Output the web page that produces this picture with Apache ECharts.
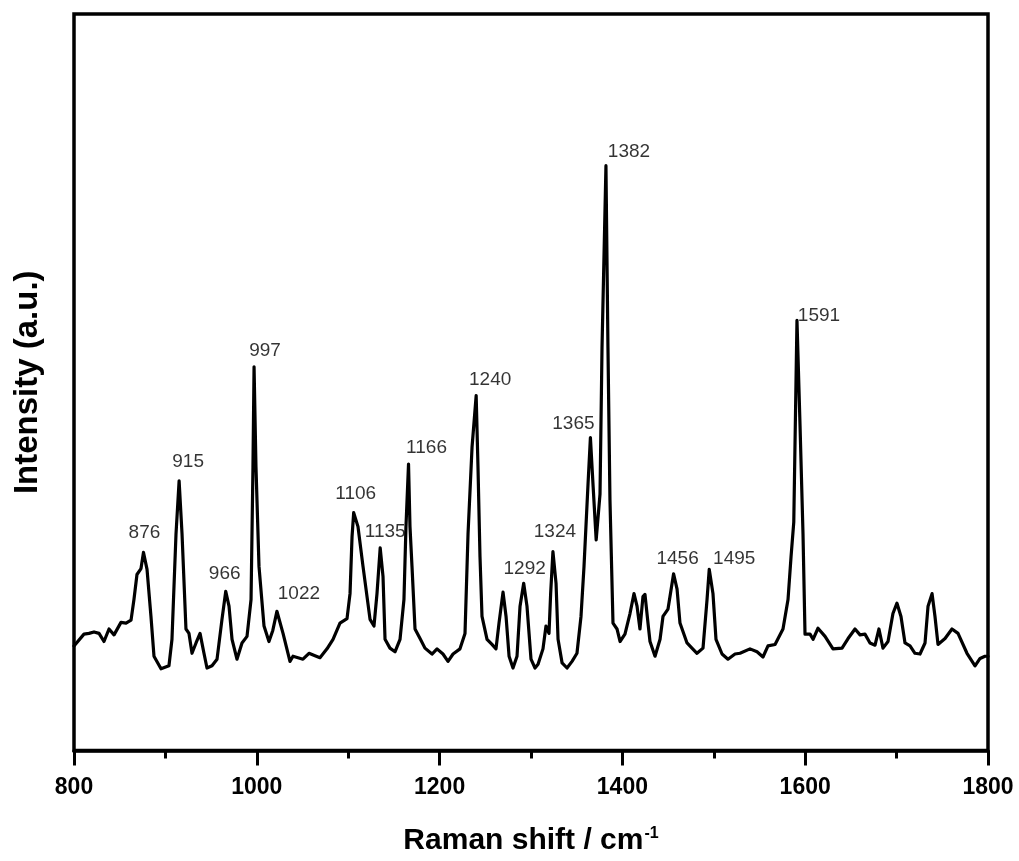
<!DOCTYPE html>
<html>
<head>
<meta charset="utf-8">
<style>
  html, body { margin: 0; padding: 0; background: #fff; }
  #chart { width: 1019px; height: 861px; }
</style>
<script src="https://cdn.jsdelivr.net/npm/echarts@6/dist/echarts.min.js"></script>
</head>
<body>
<div id="chart"></div>
<script>
// Raman spectrum: wavenumber (cm-1) and relative intensity (a.u.)
const ramanShift = [
  800, 810.9, 816.4, 821.9, 827.4, 832.8, 838.3, 843.8, 851.4, 856.9,
  862.4, 865.6, 868.9, 873.3, 876, 879.9, 884.2, 887.5, 895.2, 903.9,
  907.2, 911.6, 915, 918.2, 922.5, 925.8, 929.1, 933.5, 937.9, 942.2,
  945.5, 951.0, 956.5, 961.9, 966, 969.6, 972.9, 978.3, 983.8, 989.3,
  993.7, 995.8, 997, 999.1, 1002.4, 1007.9, 1013.3, 1017.5, 1022, 1028.7,
  1036.3, 1039.6, 1045.1, 1050.5, 1057.1, 1063, 1069.1, 1076.8, 1083.4, 1091.0,
  1098.7, 1102.0, 1104.2, 1106, 1110.7, 1116.2, 1123.9, 1128.2, 1131.5, 1135,
  1138.1, 1140.3, 1145.7, 1151.2, 1156.7, 1161.0, 1163.2, 1166, 1167.6, 1169.8,
  1173.1, 1178.6, 1184.0, 1191.7, 1197.2, 1203.7, 1209.2, 1214.7, 1222.3, 1227.8,
  1231.1, 1235.5, 1240, 1242.0, 1244.2, 1246.4, 1251.9, 1257.3, 1261.7, 1265.0,
  1269.4, 1272.7, 1276.0, 1280.3, 1284.7, 1288.0, 1292, 1295.6, 1300.0, 1304.4,
  1307.7, 1313.1, 1316.4, 1319.7, 1321.5, 1324, 1327.4, 1329.6, 1334.0, 1339.4,
  1344.9, 1350.3, 1354.7, 1358.0, 1362.4, 1365, 1368.0, 1371.3, 1375.5, 1377.7,
  1382, 1384.2, 1386.4, 1389.7, 1394.1, 1397.4, 1402.8, 1408.3, 1412.7, 1416.0,
  1419.2, 1422.5, 1424.7, 1428.0, 1430.2, 1435.7, 1441.2, 1444.4, 1449.9, 1456,
  1459.8, 1463.0, 1470.7, 1476.1, 1481.6, 1488.2, 1492.6, 1495, 1499.1, 1502.4,
  1509.0, 1515.5, 1523.2, 1528.7, 1539.6, 1547.3, 1553.8, 1559.3, 1567.0, 1575.7,
  1581.2, 1584.5, 1587.5, 1591, 1594.4, 1597.6, 1599.8, 1605.3, 1608.6, 1614.0,
  1621.7, 1630.4, 1640.3, 1646.9, 1654.5, 1660.0, 1665.4, 1670.9, 1676.4, 1680.7,
  1685.1, 1690.6, 1696.0, 1700.4, 1704.8, 1709.2, 1714.7, 1720.1, 1725.6, 1731.1,
  1734.4, 1738.8, 1742.0, 1745.3, 1753.0, 1760.6, 1767.2, 1777.0, 1785.8, 1791.3,
  1796.7, 1800
];

const intensity = [
  14.2, 15.8, 15.9, 16.1, 15.9, 14.8, 16.5, 15.7, 17.4, 17.3,
  17.7, 20.5, 23.9, 24.7, 26.9, 24.6, 18.2, 12.8, 11.1, 11.5,
  15.1, 29.4, 36.6, 29.4, 16.5, 15.9, 13.2, 14.6, 15.9, 13.2,
  11.2, 11.5, 12.4, 17.8, 21.6, 19.6, 15.1, 12.4, 14.6, 15.5,
  20.5, 38.5, 52.1, 38.5, 25.0, 16.9, 14.8, 16.3, 18.9, 15.9,
  12.1, 12.8, 12.6, 12.4, 13.2, 12.9, 12.6, 13.8, 15.1, 17.3,
  17.9, 21.3, 29.0, 32.3, 30.4, 25.0, 17.8, 16.9, 21.3, 27.5,
  23.6, 15.1, 13.9, 13.4, 15.1, 20.5, 30.4, 38.9, 30.4, 25.0,
  16.5, 15.2, 13.9, 13.1, 13.8, 13.1, 12.1, 13.1, 13.8, 15.9,
  29.4, 41.2, 48.2, 38.5, 26.3, 18.2, 15.1, 14.4, 13.8, 17.3,
  21.5, 18.2, 12.8, 11.2, 12.8, 19.6, 22.7, 19.6, 12.4, 11.2,
  11.7, 13.8, 16.9, 15.9, 21.3, 27.0, 22.7, 15.1, 11.9, 11.2,
  12.1, 13.2, 18.2, 25.0, 36.2, 42.5, 35.8, 28.6, 34.8, 54.7,
  79.4, 54.7, 34.0, 17.3, 16.5, 14.8, 15.8, 18.6, 21.3, 19.6,
  16.5, 20.9, 21.2, 17.3, 14.8, 12.8, 15.1, 18.2, 19.2, 24.0,
  21.9, 17.3, 14.6, 13.9, 13.2, 13.9, 20.5, 24.6, 21.3, 15.1,
  13.1, 12.4, 13.1, 13.2, 13.8, 13.4, 12.7, 14.2, 14.4, 16.5,
  20.5, 26.3, 31.0, 58.4, 43.9, 29.4, 15.8, 15.8, 15.1, 16.6,
  15.5, 13.8, 13.9, 15.2, 16.5, 15.7, 15.8, 14.6, 14.3, 16.5,
  13.9, 14.8, 18.6, 20.0, 18.2, 14.6, 14.2, 13.2, 13.1, 14.6,
  19.6, 21.3, 18.2, 14.4, 15.2, 16.5, 15.9, 13.2, 11.5, 12.5,
  12.8, 12.8
];

// Assigned band positions (cm-1)
const peakShifts = [876, 915, 966, 997, 1022, 1106, 1135, 1166, 1240, 1292, 1324, 1365, 1382, 1456, 1495, 1591];

// Axis tick labels
const xTickLabels = ['800', '1000', '1200', '1400', '1600', '1800'];

// Label placement relative to each band maximum (px)
const peakLabelOffset = {
  876: [1, -20], 915: [9, -19], 966: [-1, -18], 997: [11, -16],
  1022: [22, -18], 1106: [2, -19], 1135: [5, -16], 1166: [18, -16],
  1240: [14, -16], 1292: [1, -15], 1324: [2, -20], 1365: [-17, -14],
  1382: [23, -14], 1456: [4, -15], 1495: [25, -11], 1591: [22, -5]
};

const spectrum = ramanShift.map((x, i) => [x, intensity[i]]);
const peakPoints = peakShifts.map(p => {
  const i = ramanShift.indexOf(p);
  return { value: [p, intensity[i]], name: String(p),
           label: { offset: peakLabelOffset[p] } };
});

const chart = echarts.init(document.getElementById('chart'), null, { renderer: 'canvas' });

const FONT = '"Liberation Sans", Arial, sans-serif';

chart.setOption({
  animation: false,
  backgroundColor: '#ffffff',
  grid: {
    left: 74, right: 31, top: 14, bottom: 106,
    show: true, borderColor: '#000', borderWidth: 3.5, backgroundColor: 'transparent'
  },
  xAxis: {
    type: 'value',
    min: 800, max: 1800, interval: 200,
    name: '{a|Raman shift / cm}{s|-1}',
    nameLocation: 'middle',
    nameGap: 75,
    nameTextStyle: {
      rich: {
        a: { fontFamily: FONT, fontWeight: 'bold', fontSize: 30, color: '#000' },
        s: { fontFamily: FONT, fontWeight: 'bold', fontSize: 16, color: '#000', verticalAlign: 'top', padding: [0, 0, 15, 1] }
      }
    },
    axisLine: { show: true, lineStyle: { color: '#000', width: 3.5 } },
    axisTick: { show: true, inside: false, length: 15, lineStyle: { color: '#000', width: 3 } },
    minorTick: { show: true, splitNumber: 2, length: 8, lineStyle: { color: '#000', width: 3 } },
    splitLine: { show: false },
    axisLabel: {
      margin: 26,
      fontFamily: FONT, fontWeight: 'bold', fontSize: 23, color: '#000',
      formatter: v => xTickLabels[xTickLabels.indexOf(String(v))]
    }
  },
  yAxis: {
    type: 'value',
    min: 0, max: 100,
    name: 'Intensity (a.u.)',
    nameLocation: 'middle',
    nameGap: 30,
    nameRotate: 90,
    nameTextStyle: { fontFamily: FONT, fontWeight: 'bold', fontSize: 33, color: '#000' },
    axisLine: { show: false },
    axisTick: { show: false },
    axisLabel: { show: false },
    splitLine: { show: false }
  },
  series: [
    {
      type: 'line',
      data: spectrum,
      showSymbol: false,
      smooth: false,
      lineStyle: { color: '#000', width: 3.2, join: 'round', cap: 'round' },
      z: 3
    },
    {
      type: 'scatter',
      data: peakPoints,
      symbolSize: 0,
      label: {
        show: true,
        position: 'inside',
        align: 'center',
        verticalAlign: 'middle',
        formatter: p => p.name,
        fontFamily: FONT, fontSize: 19, color: '#000'
      },
      z: 4
    }
  ]
});
</script>
</body>
</html>
